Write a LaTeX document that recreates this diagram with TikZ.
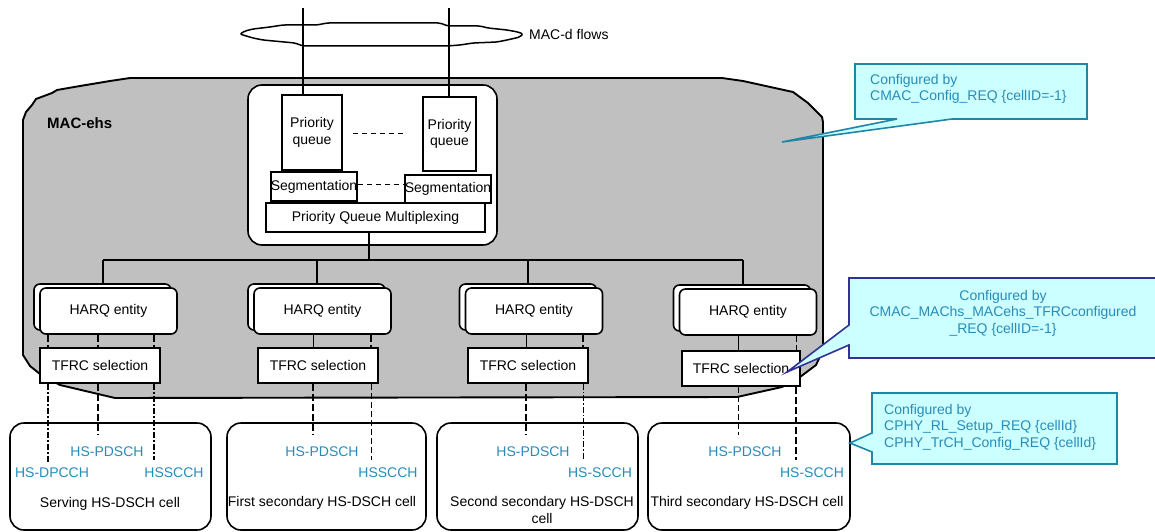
\documentclass[tikz,border=0pt]{standalone}
\usepackage{fontspec}
\setmainfont{Liberation Sans}
\definecolor{macgray}{RGB}{192,192,192}
\definecolor{calfill}{RGB}{204,255,255}
\definecolor{calteal}{RGB}{30,135,165}
\definecolor{calblue}{RGB}{50,50,150}
\definecolor{txtblue}{RGB}{40,140,185}
\newcommand{\fs}{\fontsize{14}{16.5}\selectfont}
\tikzset{
  box/.style={draw, line width=1.6pt, fill=white, inner sep=0pt, font=\fs, align=center},
  cbox/.style={box, rounded corners=6pt},
  hbox/.style={cbox, minimum width=137pt, minimum height=46pt},
  tbox/.style={box, minimum width=120pt, minimum height=35pt},
  cellbox/.style={box, rounded corners=14pt, minimum width=201pt, minimum height=107pt},
  plain/.style={line width=1.5pt},
  busline/.style={line width=1.7pt},
  thickdash/.style={line width=2.4pt, dash pattern=on 7pt off 3pt},
  thickdashdot/.style={line width=2.4pt, dash pattern=on 6pt off 2pt on 2pt off 2pt},
  thindash/.style={line width=0.9pt, dash pattern=on 6pt off 3pt},
  thindashdot/.style={line width=0.9pt, dash pattern=on 6pt off 2pt on 1.5pt off 2pt},
  thinline/.style={line width=0.9pt},
  bluetxt/.style={text=txtblue, font=\fs, inner sep=0pt},
  celltxt/.style={font=\fs, inner sep=0pt, align=center},
  calloutT/.style={draw=calteal, fill=calfill, line width=1.6pt, line join=miter},
  calloutB/.style={draw=calblue, fill=calfill, line width=1.6pt, line join=miter},
  caltxt/.style={text=txtblue, font=\fontsize{14}{16.5}\selectfont, inner sep=0pt},
}
\begin{document}
\begin{tikzpicture}[x=1pt,y=-1pt]
\useasboundingbox (0,0) rectangle (1155,532);
% MAC-ehs outer shape
\draw[line width=1.9pt, fill=macgray, line join=round] (23,120) -- (26,112) -- (32,105) -- (36,99) -- (52,93) -- (57,90) -- (80,86) -- (110,81) -- (130,78) -- (722,78) -- (743,81) -- (793,92) -- (808,103) -- (822,117) -- (823,122) -- (823,350) -- (816,365) -- (800,377) -- (782,387) -- (737,397) -- (115,398) -- (60,385) -- (40,374) -- (30,366) -- (23,355) -- cycle;
\node[font=\fontsize{15}{18}\selectfont\bfseries, anchor=west, inner sep=0pt] (maclbl) at (47,123) {MAC-ehs};
% MAC-d flows bundle
\draw[plain, rounded corners=2pt, fill=white] (240,34) -- (245,31) -- (253,29) -- (270,27) -- (283,25) -- (317,25) -- (327,23) -- (440,23) -- (448,26) -- (480,26) -- (488,28) -- (507,30) -- (518,32) -- (523,34) -- (520,37) -- (507,40) -- (497,42) -- (473,43) -- (460,45) -- (447,46) -- (303,46) -- (295,43) -- (263,40) -- (253,38) -- (243,35) -- cycle;
\node[font=\fs, anchor=west, inner sep=0pt] (flowlbl) at (529,34) {MAC-d flows};
% inner box
\node[box, rounded corners=14pt, minimum width=249pt, minimum height=160pt] (inner) at (372.5,165) {};
\node[box, minimum width=60pt, minimum height=75pt] (pq1) at (312,132.5) {Priority\\queue};
\node[box, minimum width=53pt, minimum height=74pt] (pq2) at (449.5,134) {Priority\\queue};
\node[box, minimum width=78pt, minimum height=29pt] (seg1) at (314,186.5) {Segmentation};
\node[box, minimum width=78pt, minimum height=28pt] (seg2) at (448,189) {Segmentation};
\node[box, minimum width=219pt, minimum height=29pt] (pqm) at (375.5,217.5) {Priority Queue Multiplexing};
% flow lines
\coordinate (f1) at (303,8);
\coordinate (f2) at (449,8);
\draw[plain] (f1) -- (f1 |- pq1.north);
\draw[plain] (f2) -- (f2 |- pq2.north);
% dashed between queues
\coordinate (dq1) at (353,133);
\coordinate (dq2) at (403,133);
\draw[line width=1pt, dash pattern=on 5pt off 4pt] (dq1) -- (dq2);
\draw[line width=1pt, dash pattern=on 5pt off 4pt] (seg1.east |- 0,184) -- (seg2.west |- 0,184);
% bus
\coordinate (busM) at (369,260);
\coordinate (busL) at (103,260);
\coordinate (busA) at (317,260);
\coordinate (busB) at (528,260);
\coordinate (busR) at (743,260);
\draw[busline] (pqm.south -| busM) -- (busM);
\draw[busline] (busL) -- (busR);
% HARQ entities (stacked)
\node[hbox] (h1b) at (102.5,307) {};
\node[hbox] (h2b) at (316.5,307) {};
\node[hbox] (h3b) at (528,307) {};
\node[hbox] (h4b) at (742,308) {};
\draw[busline] (busL) -- (busL |- h1b.north);
\draw[busline] (busA) -- (busA |- h2b.north);
\draw[busline] (busB) -- (busB |- h3b.north);
\draw[busline] (busR) -- (busR |- h4b.north);
\node[hbox] (h1f) at (108.5,311) {HARQ entity};
\node[hbox] (h2f) at (322.5,311) {HARQ entity};
\node[hbox] (h3f) at (534,311) {HARQ entity};
\node[hbox] (h4f) at (748,312) {HARQ entity};
% TFRC
\node[tbox] (t1) at (100,365.5) {TFRC selection};
\node[tbox] (t2) at (318,365.5) {TFRC selection};
\node[tbox] (t3) at (528,365.5) {TFRC selection};
\node[tbox, minimum width=118pt] (t4) at (741,368.5) {TFRC selection};
% cells
\node[cellbox] (c1) at (110.5,476.5) {};
\node[cellbox, minimum width=199pt] (c2) at (326.5,476.5) {};
\node[cellbox] (c3) at (537.5,476.5) {};
\node[cellbox, minimum width=202pt] (c4) at (749,476.5) {};
% channel lines: HARQ -> TFRC
\draw[thickdash] (h1f.south -| 48,0) -- (t1.north -| 48,0);
\draw[thickdash] (h1f.south -| 98,0) -- (t1.north -| 98,0);
\draw[thickdash] (h1f.south -| 154,0) -- (t1.north -| 154,0);
\draw[thinline] (h2f.south -| 313,0) -- (t2.north -| 313,0);
\draw[thickdash] (h2f.south -| 371,0) -- (t2.north -| 371,0);
\draw[thinline] (h3f.south -| 526,0) -- (t3.north -| 526,0);
\draw[thickdash] (h3f.south -| 583,0) -- (t3.north -| 583,0);
\draw[thinline] (h4f.south -| 738,0) -- (t4.north -| 738,0);
\draw[thindash] (h4f.south -| 796,0) -- (t4.north -| 796,0);
% channel lines: TFRC -> cells
\coordinate (e1a) at (48,462);
\coordinate (e1b) at (98,435);
\coordinate (e1c) at (154,460);
\coordinate (e2a) at (313,435);
\coordinate (e2b) at (371,460);
\coordinate (e3a) at (526,435);
\coordinate (e3b) at (583,460);
\coordinate (e4a) at (738,435);
\coordinate (e4b) at (796,460);
\draw[thickdashdot] (t1.south -| e1a) -- (e1a);
\draw[thickdash] (t1.south -| e1b) -- (e1b);
\draw[thickdashdot] (t1.south -| e1c) -- (e1c);
\draw[thickdash] (t2.south -| e2a) -- (e2a);
\draw[thindash] (t2.south -| e2b) -- (e2b);
\draw[thickdash] (t3.south -| e3a) -- (e3a);
\draw[thindashdot] (t3.south -| e3b) -- (e3b);
\draw[thindash] (t4.south -| e4a) -- (e4a);
\draw[thickdash] (t4.south -| e4b) -- (e4b);
% cell texts
\node[bluetxt] (c1p) at (107,452) {HS-PDSCH};
\node[bluetxt] (c1d) at (52,473) {HS-DPCCH};
\node[bluetxt] (c1s) at (174,473) {HSSCCH};
\node[celltxt] (c1n) at (110,504) {Serving HS-DSCH cell};
\node[bluetxt] (c2p) at (322,452) {HS-PDSCH};
\node[bluetxt] (c2s) at (388,473) {HSSCCH};
\node[celltxt] (c2n) at (322,503) {First secondary HS-DSCH cell};
\node[bluetxt] (c3p) at (533,452) {HS-PDSCH};
\node[bluetxt] (c3s) at (600,473) {HS-SCCH};
\node[celltxt] (c3n) at (542,510) {Second secondary HS-DSCH\\cell};
\node[bluetxt] (c4p) at (745,452) {HS-PDSCH};
\node[bluetxt] (c4s) at (812,473) {HS-SCCH};
\node[celltxt] (c4n) at (747,503) {Third secondary HS-DSCH cell};
% callouts
\draw[calloutT] (855,64) -- (1087,64) -- (1087,119) -- (952,119) -- (782,142) -- (897,119) -- (855,119) -- cycle;
\node[caltxt, anchor=west, align=left] (cb1) at (870,89) {Configured by\\CMAC\_Config\_REQ \{cellID=-1\}};
\draw[calloutB] (849,278) -- (1170,278) -- (1170,358) -- (849,358) -- (849,345) -- (787,372) -- (849,325) -- cycle;
\node[caltxt, align=center] (cb2) at (1003,313) {Configured by\\CMAC\_MAChs\_MACehs\_TFRCconfigured\\\_REQ \{cellID=-1\}};
\draw[calloutT] (872,393) -- (1117,393) -- (1117,464) -- (872,464) -- (872,452) -- (850,443) -- (872,433) -- cycle;
\node[caltxt, anchor=west, align=left] (cb3) at (884,427) {Configured by\\CPHY\_RL\_Setup\_REQ \{cellId\}\\CPHY\_TrCH\_Config\_REQ \{cellId\}};
\end{tikzpicture}
\end{document}
